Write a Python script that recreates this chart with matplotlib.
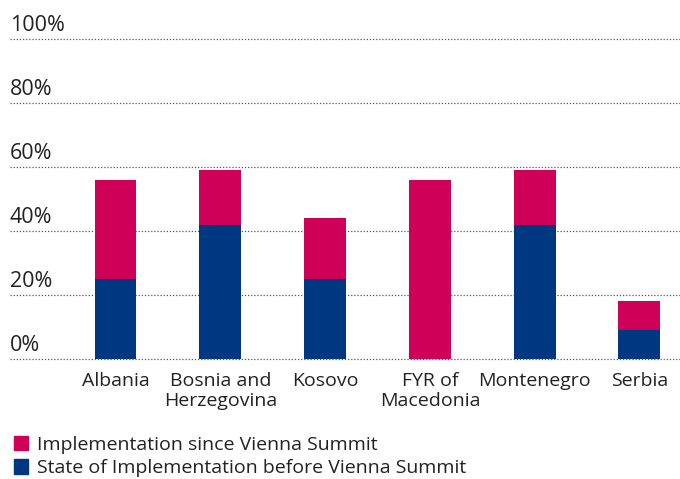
import matplotlib
matplotlib.use('Agg')
import matplotlib.pyplot as plt
import matplotlib.transforms as mtransforms
from matplotlib.patches import Rectangle

plt.rcParams['font.family'] = ['Open Sans', 'DejaVu Sans']

countries = ['Albania', 'Bosnia and\nHerzegovina', 'Kosovo', 'FYR of\nMacedonia', 'Montenegro', 'Serbia']
before = [25, 42, 25, 0, 42, 9]
since = [31, 17, 19, 56, 17, 9]
yticks = [0, 20, 40, 60, 80, 100]

blue = '#003781'
pink = '#CE0058'
txt = '#222222'

fig = plt.figure(figsize=(6.8, 4.79), dpi=100)
ax = fig.add_axes([10/680, 1 - 359/479, 670/680, 320/479])

x = list(range(len(countries)))
ax.bar(x, before, width=0.4, color=blue, zorder=3)
ax.bar(x, since, width=0.4, bottom=before, color=pink, zorder=3)

ax.set_xlim(-1.007, 5.387)
ax.set_ylim(0, 100)
for s in ax.spines.values():
    s.set_visible(False)
ax.set_yticks([])
ax.set_xticks(x)
ax.set_xticklabels(countries, fontsize=14, color=txt, linespacing=1.2)
ax.tick_params(axis='x', length=0, pad=9)

trans = mtransforms.blended_transform_factory(ax.transAxes, ax.transData)
for v in yticks:
    ax.axhline(v, color='#555555', lw=0.9, ls=(0, (1, 1.5)), zorder=1, clip_on=False)
    ax.text(0.0, v + 2.5, f'{v}%', transform=trans, fontsize=15.5, color=txt,
            ha='left', va='baseline')

handles = [Rectangle((0, 0), 1, 1, color=pink), Rectangle((0, 0), 1, 1, color=blue)]
labels = ['Implementation since Vienna Summit', 'State of Implementation before Vienna Summit']
fig.legend(handles, labels, loc='lower left', bbox_to_anchor=(0.0, -0.025), frameon=False,
           fontsize=14, handlelength=0.75, handleheight=0.75, handletextpad=0.45,
           labelspacing=0.3, borderaxespad=0.3, labelcolor=txt)

fig.savefig('out.png', dpi=100)
